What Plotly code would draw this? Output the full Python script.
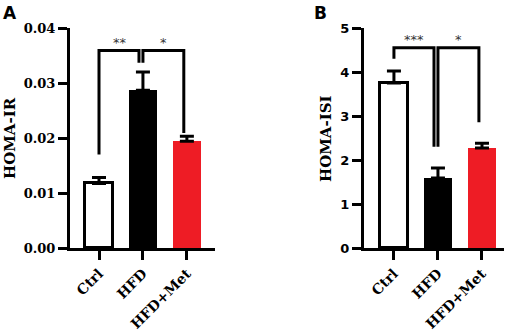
import plotly.graph_objects as go

groups = ["Ctrl", "HFD", "HFD+Met"]
pos = [0, 1, 2]
colors = ["white", "black", "#ee1c25"]

ir_mean = [0.01175, 0.0287, 0.0194]
ir_top = [0.0128, 0.0320, 0.0203]
isi_mean = [3.75, 1.59, 2.27]
isi_top = [4.02, 1.82, 2.38]

# significance brackets: (x points, y points)
ir_br1_x = [0.0, 0.0, 0.91, 0.91]
ir_br1_y = [0.0170, 0.0359, 0.0359, 0.0337]
ir_br2_x = [1.0, 1.0, 1.93, 1.93]
ir_br2_y = [0.0337, 0.0359, 0.0359, 0.0209]
ir_stars = [("**", 0.47, 0.0374), ("*", 1.47, 0.0374)]

isi_br1_x = [0.0, 0.0, 0.91, 0.91]
isi_br1_y = [4.30, 4.55, 4.55, 2.30]
isi_br2_x = [1.0, 1.0, 1.93, 1.93]
isi_br2_y = [2.30, 4.55, 4.55, 2.86]
isi_stars = [("***", 0.45, 4.74), ("*", 1.47, 4.74)]

fig = go.Figure()

def add_panel(mean, top, xa, ya):
    fig.add_trace(go.Bar(
        x=pos, y=mean, width=0.64,
        marker=dict(color=colors, line=dict(color=["black", "black", "#ee1c25"], width=[3, 0, 0])),
        error_y=dict(type="data", symmetric=False,
                     array=[t - m for t, m in zip(top, mean)],
                     arrayminus=[0, 0, 0], color="black", thickness=3, width=7),
        xaxis=xa, yaxis=ya, showlegend=False))

add_panel(ir_mean, ir_top, "x", "y")
add_panel(isi_mean, isi_top, "x2", "y2")

for bx, by, xa, ya in [(ir_br1_x, ir_br1_y, "x", "y"), (ir_br2_x, ir_br2_y, "x", "y"),
                       (isi_br1_x, isi_br1_y, "x2", "y2"), (isi_br2_x, isi_br2_y, "x2", "y2")]:
    fig.add_trace(go.Scatter(x=bx, y=by, mode="lines", line=dict(color="black", width=3),
                             xaxis=xa, yaxis=ya, showlegend=False, hoverinfo="skip"))

annotations = []
for txt, x, y in ir_stars:
    annotations.append(dict(text=txt, x=x, y=y, xref="x", yref="y", showarrow=False,
                            font=dict(family="DejaVu Sans", size=13, color="#333")))
for txt, x, y in isi_stars:
    annotations.append(dict(text=txt, x=x, y=y, xref="x2", yref="y2", showarrow=False,
                            font=dict(family="DejaVu Sans", size=13, color="#333")))

annotations += [
    dict(text="A", x=1 / 512, y=1 - 13 / 331, xref="paper", yref="paper", xanchor="left",
         yanchor="middle", showarrow=False,
         font=dict(family="DejaVu Sans", size=17, color="black", weight="bold")),
    dict(text="B", x=312 / 512, y=1 - 13 / 331, xref="paper", yref="paper", xanchor="left",
         yanchor="middle", showarrow=False,
         font=dict(family="DejaVu Sans", size=17, color="black", weight="bold")),
    dict(text="HOMA-IR", x=10 / 512, y=1 - 138 / 331, xref="paper", yref="paper",
         textangle=-90, showarrow=False, xanchor="center", yanchor="middle",
         font=dict(family="DejaVu Serif", size=15, color="black", weight="bold")),
    dict(text="HOMA-ISI", x=326 / 512, y=1 - 139 / 331, xref="paper", yref="paper",
         textangle=-90, showarrow=False, xanchor="center", yanchor="middle",
         font=dict(family="DejaVu Serif", size=15, color="black", weight="bold")),
]

ydom = [1 - 248 / 331, 1 - 28 / 331]
common_x = dict(showline=True, linecolor="black", linewidth=3, ticks="outside", ticklen=9,
                tickwidth=3, tickcolor="black", tickvals=pos, ticktext=groups, tickangle=-45,
                showgrid=False, zeroline=False, automargin=False,
                tickfont=dict(family="DejaVu Serif", size=14, color="black", weight="bold"))
common_y = dict(showline=True, linecolor="black", linewidth=3, ticks="outside", ticklen=9,
                tickwidth=3, tickcolor="black", showgrid=False, zeroline=False,
                automargin=False, domain=ydom)

fig.update_layout(
    width=512, height=331, margin=dict(l=0, r=0, t=0, b=0),
    paper_bgcolor="white", plot_bgcolor="white", bargap=0,
    xaxis=dict(domain=[70 / 512, 215 / 512], range=[-0.66, 2.64], anchor="y", **common_x),
    xaxis2=dict(domain=[364 / 512, 504 / 512], range=[-0.68, 2.5], anchor="y2", **common_x),
    yaxis=dict(range=[0, 0.04], tickvals=[0, 0.01, 0.02, 0.03, 0.04], tickformat=".2f",
               anchor="x",
               tickfont=dict(family="DejaVu Serif", size=13, color="black", weight="bold"),
               **common_y),
    yaxis2=dict(range=[0, 5], tickvals=[0, 1, 2, 3, 4, 5], anchor="x2",
                tickfont=dict(family="DejaVu Sans", size=13, color="black", weight="bold"),
                **common_y),
    annotations=annotations,
)

fig.write_html("out.html", config={"displayModeBar": False},
               post_script="document.body.style.margin='0';document.body.style.overflow='hidden';")
